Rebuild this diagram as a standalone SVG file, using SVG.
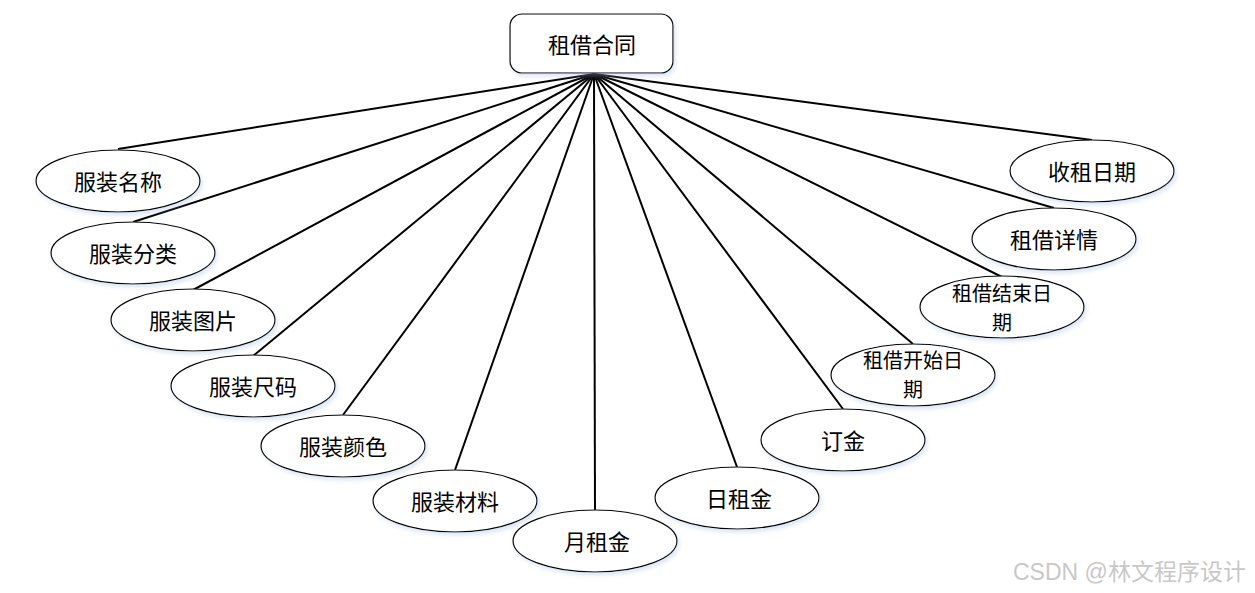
<svg xmlns="http://www.w3.org/2000/svg" width="1255" height="593" viewBox="0 0 1255 593">
<defs>
<filter id="sh" x="-10%" y="-10%" width="125%" height="130%">
<feDropShadow dx="2" dy="3" stdDeviation="2" flood-color="#9fb8e0" flood-opacity="0.35"/>
</filter>
<style>
.n{fill:#fff;stroke:#000;stroke-width:1.2;filter:url(#sh)}
.t{font-family:"Noto Sans CJK SC","Noto Sans",sans-serif;font-size:22px;fill:#000;text-anchor:middle;dominant-baseline:central}
.t2{font-size:20px}
.c line{stroke:#000;stroke-width:2}
.wm{font-family:"Liberation Sans","Noto Sans CJK SC",sans-serif;font-size:23px;fill:#c8c8c8}
</style>
</defs>
<rect width="1255" height="593" fill="#fff"/>
<g class="c" id="connectors">
<line x1="594" y1="74" x2="118" y2="149"/>
<line x1="594" y1="74" x2="133" y2="222"/>
<line x1="594" y1="74" x2="193" y2="290"/>
<line x1="594" y1="74" x2="253" y2="356"/>
<line x1="594" y1="74" x2="343" y2="415"/>
<line x1="594" y1="74" x2="455" y2="470"/>
<line x1="594" y1="74" x2="595" y2="510"/>
<line x1="594" y1="74" x2="737" y2="467"/>
<line x1="594" y1="74" x2="843" y2="409"/>
<line x1="594" y1="74" x2="913" y2="344"/>
<line x1="594" y1="74" x2="1002" y2="277"/>
<line x1="594" y1="74" x2="1054" y2="208"/>
<line x1="594" y1="74" x2="1092" y2="140"/>
</g>
<g id="n0"><rect class="n" x="510" y="14" width="163" height="59" rx="12"/><text class="t" x="592" y="43">租借合同</text></g>
<g id="n1"><ellipse class="n" cx="118" cy="181" rx="82" ry="31"/><text class="t" x="118" y="180">服装名称</text></g>
<g id="n2"><ellipse class="n" cx="133" cy="253" rx="82" ry="31"/><text class="t" x="133" y="252">服装分类</text></g>
<g id="n3"><ellipse class="n" cx="193" cy="320" rx="82" ry="31"/><text class="t" x="193" y="319">服装图片</text></g>
<g id="n4"><ellipse class="n" cx="253" cy="386" rx="82" ry="31"/><text class="t" x="253" y="385">服装尺码</text></g>
<g id="n5"><ellipse class="n" cx="343" cy="446" rx="82" ry="31"/><text class="t" x="343" y="445">服装颜色</text></g>
<g id="n6"><ellipse class="n" cx="455" cy="501" rx="82" ry="31"/><text class="t" x="455" y="500">服装材料</text></g>
<g id="n7"><ellipse class="n" cx="595" cy="541" rx="82" ry="31"/><text class="t" x="597" y="540">月租金</text></g>
<g id="n8"><ellipse class="n" cx="737" cy="498" rx="82" ry="31"/><text class="t" x="739" y="497">日租金</text></g>
<g id="n9"><ellipse class="n" cx="843" cy="440" rx="82" ry="31"/><text class="t" x="843" y="439">订金</text></g>
<g id="n10"><ellipse class="n" cx="913" cy="375" rx="82" ry="31"/><text class="t t2" x="913" y="359">租借开始日<tspan x="913" dy="29">期</tspan></text></g>
<g id="n11"><ellipse class="n" cx="1002" cy="307" rx="82" ry="31"/><text class="t t2" x="1002" y="292">租借结束日<tspan x="1002" dy="29">期</tspan></text></g>
<g id="n12"><ellipse class="n" cx="1054" cy="239" rx="82" ry="31"/><text class="t" x="1054" y="238">租借详情</text></g>
<g id="n13"><ellipse class="n" cx="1092" cy="171" rx="82" ry="31"/><text class="t" x="1092" y="170">收租日期</text></g>
<text class="wm" x="1013" y="580">CSDN @林文程序设计</text>
</svg>
